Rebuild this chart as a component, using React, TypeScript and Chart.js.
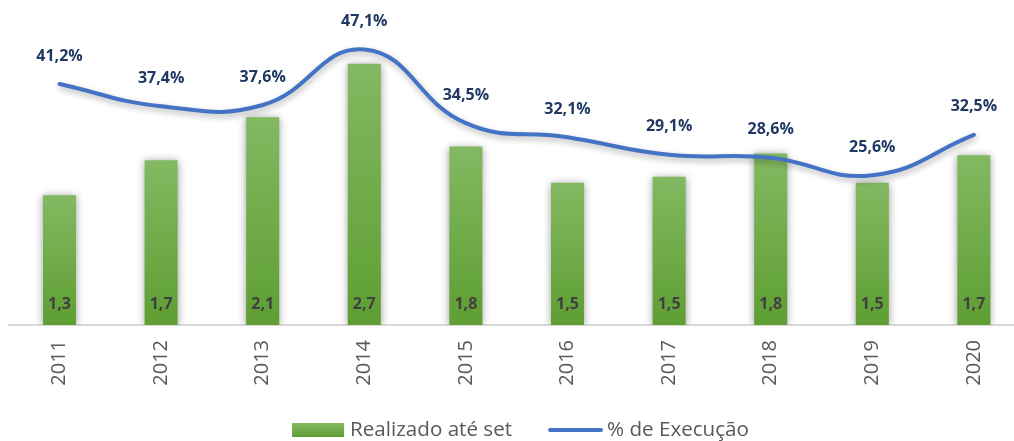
import React, { useEffect, useRef } from 'react';
import { Chart, registerables } from 'chart.js';

Chart.register(...registerables);

const FONT = '"Open Sans", "Noto Sans", sans-serif';

const years = ['2011', '2012', '2013', '2014', '2015', '2016', '2017', '2018', '2019', '2020'];
const realizado = [1.33, 1.69, 2.13, 2.68, 1.83, 1.46, 1.52, 1.76, 1.46, 1.74];
const execucao = [41.2, 37.4, 37.6, 47.1, 34.5, 32.1, 29.1, 28.6, 25.6, 32.5];
const legendLabels = ['Realizado até set', '% de Execução'];

const fmt = (v: number, d: number) => v.toFixed(d).replace('.', ',');

const BAR_TOP = 'rgb(130,185,98)';
const BAR_BOTTOM = 'rgb(94,158,50)';
const LINE_COLOR = '#4472C4';

const shadowPlugin = {
  id: 'shadows',
  beforeDatasetDraw(chart: any, args: any) {
    const ctx = chart.ctx;
    ctx.save();
    const ds = chart.data.datasets[args.index];
    if (ds.type === 'bar') {
      ctx.shadowColor = 'rgba(0,0,0,0.4)';
      ctx.shadowBlur = 8;
      ctx.shadowOffsetX = 0;
      ctx.shadowOffsetY = 1;
    } else {
      ctx.shadowColor = 'rgba(0,0,0,0.3)';
      ctx.shadowBlur = 6;
      ctx.shadowOffsetX = 1;
      ctx.shadowOffsetY = 3;
    }
  },
  afterDatasetDraw(chart: any) {
    chart.ctx.restore();
  },
};

const labelPlugin = {
  id: 'valueLabels',
  afterDatasetsDraw(chart: any) {
    const ctx = chart.ctx;
    ctx.save();
    ctx.font = `bold 16px ${FONT}`;
    ctx.textAlign = 'center';
    ctx.textBaseline = 'middle';
    chart.data.datasets.forEach((ds: any, i: number) => {
      const meta = chart.getDatasetMeta(i);
      meta.data.forEach((el: any, j: number) => {
        const v = ds.data[j];
        if (ds.type === 'bar') {
          ctx.fillStyle = '#404040';
          ctx.fillText(fmt(v, 1), el.x, el.base - 21);
        } else {
          ctx.fillStyle = '#1F3864';
          ctx.fillText(fmt(v, 1) + '%', el.x, el.y - 28);
        }
      });
    });
    ctx.restore();
  },
};

const legendPlugin = {
  id: 'customLegend',
  afterDraw(chart: any) {
    const ctx = chart.ctx;
    ctx.save();
    ctx.font = `20.6px ${FONT}`;
    const w1 = ctx.measureText(legendLabels[0]).width;
    const w2 = ctx.measureText(legendLabels[1]).width;
    const total = 52 + 6 + w1 + 36 + 55 + 4 + w2;
    let x = 520.5 - total / 2;
    const yc = 430;
    const g = ctx.createLinearGradient(0, yc - 7, 0, yc + 7);
    g.addColorStop(0, BAR_TOP);
    g.addColorStop(1, BAR_BOTTOM);
    ctx.fillStyle = g;
    ctx.fillRect(x, yc - 7, 52, 14);
    x += 58;
    ctx.fillStyle = '#595959';
    ctx.textAlign = 'left';
    ctx.textBaseline = 'middle';
    ctx.fillText(legendLabels[0], x, yc);
    x += w1 + 36;
    ctx.strokeStyle = LINE_COLOR;
    ctx.lineWidth = 4;
    ctx.lineCap = 'round';
    ctx.beginPath();
    ctx.moveTo(x + 2, yc);
    ctx.lineTo(x + 53, yc);
    ctx.stroke();
    x += 59;
    ctx.fillText(legendLabels[1], x, yc);
    ctx.restore();
  },
};

export default function App() {
  const ref = useRef<HTMLCanvasElement>(null);

  useEffect(() => {
    document.body.style.margin = '0';
    document.body.style.overflow = 'hidden';
    const canvas = ref.current!;
    const chart = new Chart(canvas, {
      type: 'bar',
      data: {
        labels: years,
        datasets: [
          {
            type: 'line',
            label: legendLabels[1],
            data: execucao,
            yAxisID: 'y1',
            borderColor: LINE_COLOR,
            borderWidth: 4,
            borderCapStyle: 'round',
            tension: 0.45,
            pointRadius: 0,
            fill: false,
            clip: false,
          } as any,
          {
            type: 'bar',
            label: legendLabels[0],
            data: realizado,
            yAxisID: 'y',
            categoryPercentage: 1,
            barPercentage: 0.325,
            backgroundColor: (c: any) => {
              const chart = c.chart;
              const ys = chart.scales.y;
              if (!chart.chartArea || !ys || c.raw == null) return BAR_BOTTOM;
              const top = ys.getPixelForValue(c.raw);
              const bottom = ys.getPixelForValue(0);
              if (!isFinite(top) || !isFinite(bottom) || top === bottom) return BAR_BOTTOM;
              const g = chart.ctx.createLinearGradient(0, top, 0, bottom);
              g.addColorStop(0, BAR_TOP);
              g.addColorStop(1, BAR_BOTTOM);
              return g;
            },
          } as any,
        ],
      },
      options: {
        animation: false,
        responsive: false,
        devicePixelRatio: 1,
        layout: { padding: { top: 32.5, left: 8.7, right: 15.3, bottom: 0 } },
        plugins: {
          legend: { display: false },
          tooltip: { enabled: false },
        },
        scales: {
          x: {
            grid: { display: false, drawTicks: false },
            border: { display: true, color: '#d9d9d9', width: 2 },
            ticks: {
              color: '#595959',
              font: { family: FONT, size: 20 },
              minRotation: 90,
              maxRotation: 90,
              padding: 15,
            },
            afterFit: (s: any) => {
              s.height = 116;
            },
          },
          y: { display: false, min: 0, max: 3 },
          y1: { display: false, min: 0, max: 50, position: 'right' },
        },
      },
      plugins: [shadowPlugin, labelPlugin, legendPlugin],
    });
    return () => chart.destroy();
  }, []);

  return (
    <div style={{ width: 1040, height: 441 }}>
      <canvas ref={ref} width={1040} height={441} style={{ display: 'block' }} />
    </div>
  );
}
